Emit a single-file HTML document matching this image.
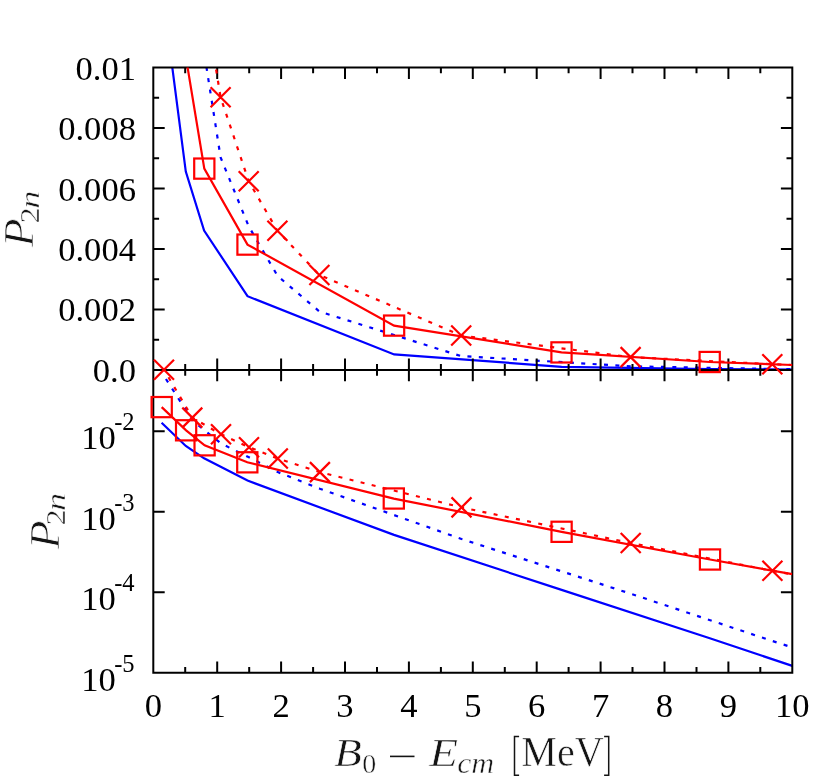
<!DOCTYPE html>
<html><head><meta charset="utf-8"><title>P2n</title>
<style>html,body{margin:0;padding:0;background:#fff}svg{display:block}</style></head>
<body><svg width="830" height="780" viewBox="0 0 830 780" style="will-change:transform">
<rect width="830" height="780" fill="#fff"/>
<defs><clipPath id="ct"><rect x="153.3" y="67.5" width="639.0" height="302.4"/></clipPath><clipPath id="cl"><rect x="153.3" y="369.9" width="639.0" height="302.9"/></clipPath></defs>
<polyline points="161.6,-15.1 185.8,171.6 204.1,230.5 247.5,296.2 394.2,354.4 561.6,366.8 709.8,369.1 792.3,369.5" fill="none" stroke="#0000ff" stroke-width="2.20" stroke-linejoin="miter" clip-path="url(#ct)"/>
<polyline points="161.6,422.7 185.8,446.0 204.1,458.3 247.5,480.6 394.0,534.9 561.6,589.9 709.8,638.2 792.3,665.9" fill="none" stroke="#0000ff" stroke-width="2.20" stroke-linejoin="miter" clip-path="url(#cl)"/>
<polyline points="164.0,-1105.8 192.5,-21.8 220.6,157.4 248.7,226.3 277.6,276.0 319.4,311.5 460.8,356.0 630.6,366.3 772.3,369.0 792.3,369.2" fill="none" stroke="#0000ff" stroke-width="2.20" stroke-linejoin="miter" stroke-dasharray="4 7.4" clip-path="url(#ct)"/>
<polyline points="164.0,376.0 192.5,420.5 221.0,443.5 249.0,457.3 277.8,472.1 319.9,488.7 461.5,539.0 630.7,593.7 772.4,641.0 792.3,647.4" fill="none" stroke="#0000ff" stroke-width="2.20" stroke-linejoin="miter" stroke-dasharray="4 7.4" stroke-dashoffset="-3.6" clip-path="url(#cl)"/>
<path d="M153.3 67.5H792.3V672.8H153.3ZM153.3 369.9H792.3M185.2 67.5v5.8M185.2 364.1v11.6M185.2 672.8v-5.8M217.2 67.5v11.4M217.2 358.5v22.8M217.2 672.8v-11.4M249.2 67.5v5.8M249.2 364.1v11.6M249.2 672.8v-5.8M281.1 67.5v11.4M281.1 358.5v22.8M281.1 672.8v-11.4M313.1 67.5v5.8M313.1 364.1v11.6M313.1 672.8v-5.8M345.0 67.5v11.4M345.0 358.5v22.8M345.0 672.8v-11.4M377.0 67.5v5.8M377.0 364.1v11.6M377.0 672.8v-5.8M408.9 67.5v11.4M408.9 358.5v22.8M408.9 672.8v-11.4M440.9 67.5v5.8M440.9 364.1v11.6M440.9 672.8v-5.8M472.8 67.5v11.4M472.8 358.5v22.8M472.8 672.8v-11.4M504.8 67.5v5.8M504.8 364.1v11.6M504.8 672.8v-5.8M536.7 67.5v11.4M536.7 358.5v22.8M536.7 672.8v-11.4M568.6 67.5v5.8M568.6 364.1v11.6M568.6 672.8v-5.8M600.6 67.5v11.4M600.6 358.5v22.8M600.6 672.8v-11.4M632.5 67.5v5.8M632.5 364.1v11.6M632.5 672.8v-5.8M664.5 67.5v11.4M664.5 358.5v22.8M664.5 672.8v-11.4M696.5 67.5v5.8M696.5 364.1v11.6M696.5 672.8v-5.8M728.4 67.5v11.4M728.4 358.5v22.8M728.4 672.8v-11.4M760.3 67.5v5.8M760.3 364.1v11.6M760.3 672.8v-5.8M153.3 339.7h5.8M792.3 339.7h-5.8M153.3 309.4h11.4M792.3 309.4h-11.4M153.3 279.2h5.8M792.3 279.2h-5.8M153.3 248.9h11.4M792.3 248.9h-11.4M153.3 218.7h5.8M792.3 218.7h-5.8M153.3 188.5h11.4M792.3 188.5h-11.4M153.3 158.2h5.8M792.3 158.2h-5.8M153.3 128.0h11.4M792.3 128.0h-11.4M153.3 97.7h5.8M792.3 97.7h-5.8M153.3 592.3h11.4M792.3 592.3h-11.4M153.3 511.8h11.4M792.3 511.8h-11.4M153.3 431.3h11.4M792.3 431.3h-11.4" fill="none" stroke="#000000" stroke-width="2.00" stroke-linecap="butt" stroke-linejoin="miter"/>
<polyline points="161.7,-234.9 186.1,58.4 204.3,168.6 247.5,244.6 394.1,325.6 561.5,352.4 709.7,362.0 792.3,365.0" fill="none" stroke="#ff0000" stroke-width="2.20" stroke-linejoin="miter" clip-path="url(#ct)"/>
<polyline points="161.7,407.1 186.1,430.3 204.6,445.3 247.3,462.3 393.8,498.6 561.6,531.8 710.0,559.5 792.3,574.2" fill="none" stroke="#ff0000" stroke-width="2.20" stroke-linejoin="miter" clip-path="url(#cl)"/>
<polyline points="164.0,-1444.5 192.5,-76.7 220.6,97.3 248.7,181.3 277.4,230.7 319.4,275.0 461.2,335.5 630.6,357.1 772.3,364.2 792.3,365.0" fill="none" stroke="#ff0000" stroke-width="2.20" stroke-linejoin="miter" stroke-dasharray="4 7.4" clip-path="url(#ct)"/>
<polyline points="164.0,369.7 192.3,417.6 221.0,434.3 249.0,447.2 277.8,458.5 319.9,472.1 461.5,507.4 630.7,543.0 772.4,570.8 792.3,574.4" fill="none" stroke="#ff0000" stroke-width="2.20" stroke-linejoin="miter" stroke-dasharray="4 7.4" stroke-dashoffset="2.6" clip-path="url(#cl)"/>
<rect x="194.2" y="158.5" width="20.2" height="20.2" fill="none" stroke="#ff0000" stroke-width="2.20"/>
<rect x="237.4" y="234.5" width="20.2" height="20.2" fill="none" stroke="#ff0000" stroke-width="2.20"/>
<rect x="384.0" y="315.5" width="20.2" height="20.2" fill="none" stroke="#ff0000" stroke-width="2.20"/>
<rect x="551.4" y="342.3" width="20.2" height="20.2" fill="none" stroke="#ff0000" stroke-width="2.20"/>
<rect x="699.6" y="351.9" width="20.2" height="20.2" fill="none" stroke="#ff0000" stroke-width="2.20"/>
<rect x="151.6" y="397.0" width="20.2" height="20.2" fill="none" stroke="#ff0000" stroke-width="2.20"/>
<rect x="176.0" y="420.2" width="20.2" height="20.2" fill="none" stroke="#ff0000" stroke-width="2.20"/>
<rect x="194.5" y="435.2" width="20.2" height="20.2" fill="none" stroke="#ff0000" stroke-width="2.20"/>
<rect x="237.2" y="452.2" width="20.2" height="20.2" fill="none" stroke="#ff0000" stroke-width="2.20"/>
<rect x="383.7" y="488.4" width="20.2" height="20.2" fill="none" stroke="#ff0000" stroke-width="2.20"/>
<rect x="551.5" y="521.7" width="20.2" height="20.2" fill="none" stroke="#ff0000" stroke-width="2.20"/>
<rect x="699.9" y="549.4" width="20.2" height="20.2" fill="none" stroke="#ff0000" stroke-width="2.20"/>
<path d="M210.6 87.3L230.6 107.3M210.6 107.3L230.6 87.3" fill="none" stroke="#ff0000" stroke-width="2.20"/>
<path d="M238.7 171.3L258.7 191.3M238.7 191.3L258.7 171.3" fill="none" stroke="#ff0000" stroke-width="2.20"/>
<path d="M267.4 220.7L287.4 240.7M267.4 240.7L287.4 220.7" fill="none" stroke="#ff0000" stroke-width="2.20"/>
<path d="M309.4 265.0L329.4 285.0M309.4 285.0L329.4 265.0" fill="none" stroke="#ff0000" stroke-width="2.20"/>
<path d="M451.2 325.5L471.2 345.5M451.2 345.5L471.2 325.5" fill="none" stroke="#ff0000" stroke-width="2.20"/>
<path d="M620.6 347.1L640.6 367.1M620.6 367.1L640.6 347.1" fill="none" stroke="#ff0000" stroke-width="2.20"/>
<path d="M762.3 354.2L782.3 374.2M762.3 374.2L782.3 354.2" fill="none" stroke="#ff0000" stroke-width="2.20"/>
<path d="M154.0 359.7L174.0 379.7M154.0 379.7L174.0 359.7" fill="none" stroke="#ff0000" stroke-width="2.20"/>
<path d="M182.3 407.6L202.3 427.6M182.3 427.6L202.3 407.6" fill="none" stroke="#ff0000" stroke-width="2.20"/>
<path d="M211.0 424.3L231.0 444.3M211.0 444.3L231.0 424.3" fill="none" stroke="#ff0000" stroke-width="2.20"/>
<path d="M239.0 437.2L259.0 457.2M239.0 457.2L259.0 437.2" fill="none" stroke="#ff0000" stroke-width="2.20"/>
<path d="M267.8 448.5L287.8 468.5M267.8 468.5L287.8 448.5" fill="none" stroke="#ff0000" stroke-width="2.20"/>
<path d="M309.9 462.1L329.9 482.1M309.9 482.1L329.9 462.1" fill="none" stroke="#ff0000" stroke-width="2.20"/>
<path d="M451.5 497.4L471.5 517.4M451.5 517.4L471.5 497.4" fill="none" stroke="#ff0000" stroke-width="2.20"/>
<path d="M620.7 533.0L640.7 553.0M620.7 553.0L640.7 533.0" fill="none" stroke="#ff0000" stroke-width="2.20"/>
<path d="M762.4 560.8L782.4 580.8M762.4 580.8L782.4 560.8" fill="none" stroke="#ff0000" stroke-width="2.20"/>
<g font-family="'Liberation Serif', serif" font-size="34.6" fill="#000"><text x="136" y="79.5" text-anchor="end">0.01</text><text x="136" y="140.0" text-anchor="end">0.008</text><text x="136" y="200.5" text-anchor="end">0.006</text><text x="136" y="260.9" text-anchor="end">0.004</text><text x="136" y="321.4" text-anchor="end">0.002</text><text x="136" y="381.9" text-anchor="end">0.0</text><text x="115.8" y="449.0" text-anchor="end">10</text><text x="134.6" y="430.3" text-anchor="end" font-size="24.5">-2</text><text x="115.8" y="529.5" text-anchor="end">10</text><text x="134.6" y="510.8" text-anchor="end" font-size="24.5">-3</text><text x="115.8" y="610.0" text-anchor="end">10</text><text x="134.6" y="591.3" text-anchor="end" font-size="24.5">-4</text><text x="115.8" y="690.5" text-anchor="end">10</text><text x="134.6" y="671.8" text-anchor="end" font-size="24.5">-5</text><text x="153.3" y="716.8" text-anchor="middle">0</text><text x="217.2" y="716.8" text-anchor="middle">1</text><text x="281.1" y="716.8" text-anchor="middle">2</text><text x="345.0" y="716.8" text-anchor="middle">3</text><text x="408.9" y="716.8" text-anchor="middle">4</text><text x="472.8" y="716.8" text-anchor="middle">5</text><text x="536.7" y="716.8" text-anchor="middle">6</text><text x="600.6" y="716.8" text-anchor="middle">7</text><text x="664.5" y="716.8" text-anchor="middle">8</text><text x="728.4" y="716.8" text-anchor="middle">9</text><text x="792.3" y="716.8" text-anchor="middle">10</text></g>
<g transform="translate(33.0,247.3) rotate(-90)" font-family="'Liberation Serif', serif" fill="#141414" stroke="#fff" stroke-width="0.8"><text transform="translate(0.3,0) scale(1.1,1)" font-size="42.5" font-style="italic">P</text><text transform="translate(23.8,6.2) scale(1.2,1)" font-size="27" stroke-width="0.5">2</text><text transform="translate(38.5,6.2) scale(1.3,1)" font-size="28" font-style="italic" stroke-width="0.5">n</text></g>
<g transform="translate(59.0,549.4) rotate(-90)" font-family="'Liberation Serif', serif" fill="#141414" stroke="#fff" stroke-width="0.8"><text transform="translate(0.3,0) scale(1.1,1)" font-size="42.5" font-style="italic">P</text><text transform="translate(23.8,6.2) scale(1.2,1)" font-size="27" stroke-width="0.5">2</text><text transform="translate(38.5,6.2) scale(1.3,1)" font-size="28" font-style="italic" stroke-width="0.5">n</text></g>
<g font-family="'Liberation Serif', serif" fill="#141414" stroke="#fff" stroke-width="0.5"><text transform="translate(334.3,766.2) scale(1.1,1)" font-size="41" font-style="italic" stroke-width="0.6">B</text><text x="362.2" y="772.7" font-size="28">0</text><rect x="390.0" y="755.6" width="24.5" height="1.6" stroke="none"/><text transform="translate(429.3,766.2) scale(1.15,1)" font-size="41" font-style="italic" stroke-width="0.6">E</text><text x="457.2" y="772.5" font-size="28.5" font-style="italic" textLength="37" lengthAdjust="spacingAndGlyphs">cm</text><text x="521.2" y="766.4" font-size="41.5" textLength="82.5" lengthAdjust="spacingAndGlyphs" stroke-width="0.6">MeV</text><path d="M519.1 736.5H514.5V775.2H519.1M604.1 736.5H608.7V775.2H604.1" fill="none" stroke="#141414" stroke-width="1.5"/></g>
</svg></body></html>
